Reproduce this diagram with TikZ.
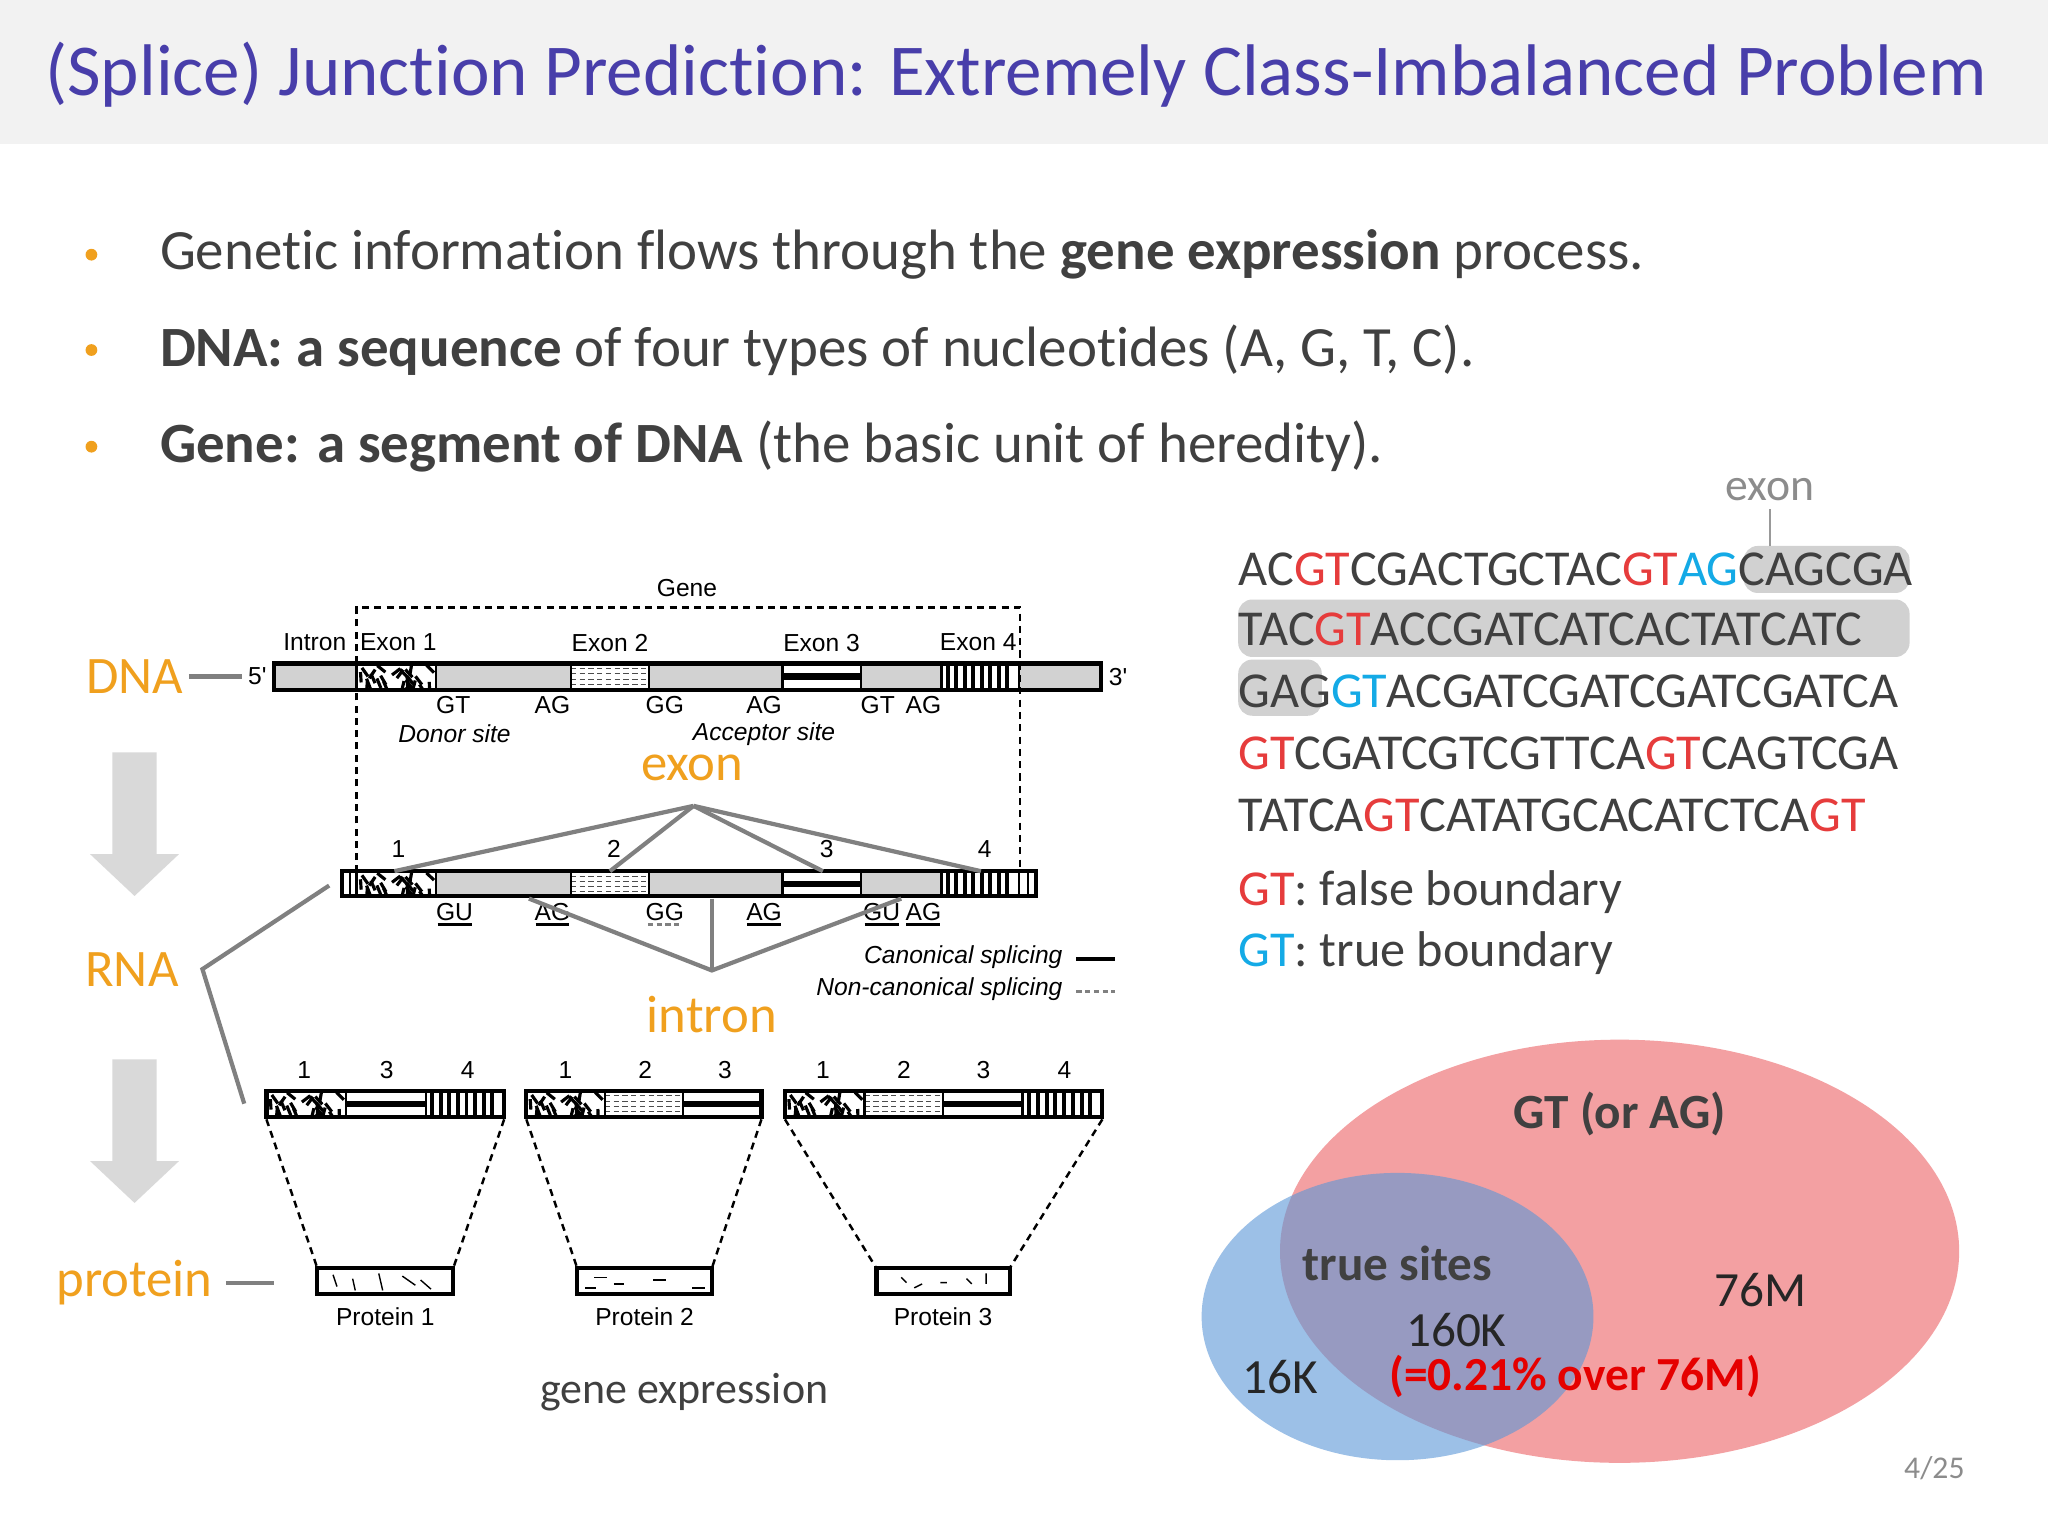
\documentclass[tikz,border=0pt]{standalone}
\usepackage{fontspec}
\setmainfont{Carlito}[Ligatures=NoCommon]
\newfontfamily\figfont{Liberation Sans}
\usetikzlibrary{arrows.meta}
\definecolor{titleblue}{RGB}{72,62,170}
\definecolor{orng}{RGB}{240,160,30}
\definecolor{txt}{RGB}{64,64,64}
\definecolor{segray}{RGB}{210,210,210}
\definecolor{hred}{RGB}{230,60,60}
\definecolor{hblue}{RGB}{20,170,230}
\definecolor{vred}{RGB}{243,160,162}
\definecolor{vblue}{RGB}{90,150,215}

% exon fillings
\newcommand{\segRand}[4]{%
  \fill[white] (#1,#3) rectangle (#2,#4);
  \begin{scope}
    \clip (#1,#3) rectangle (#2,#4);
    \pgfmathsetseed{11}
    \foreach \i in {1,...,26}{
      \pgfmathsetmacro\px{#1+rnd*(#2-#1)}
      \pgfmathsetmacro\py{#3+rnd*(#4-#3)}
      \pgfmathsetmacro\pa{30+rnd*120}
      \draw[line width=0.9pt] (\px,\py) -- ++(\pa:8);
    }
  \end{scope}}
\newcommand{\segDot}[4]{%
  \fill[white] (#1,#3) rectangle (#2,#4);
  \foreach \k in {0.2,0.4,0.6,0.8}{
    \draw[black!70,dash pattern=on 1.5pt off 1pt,line width=0.3pt] (#1,{#3+\k*(#4-#3)}) -- (#2,{#3+\k*(#4-#3)});}}
\newcommand{\segBand}[4]{%
  \fill[white] (#1,#3) rectangle (#2,#4);
  \fill[black] (#1,{#3+0.38*(#4-#3)}) rectangle (#2,{#3+0.62*(#4-#3)});}
\newcommand{\segBars}[4]{%
  \fill[white] (#1,#3) rectangle (#2,#4);
  \foreach \k in {0.08,0.19,...,0.95}{
    \draw[line width=1.1pt] ({#1+\k*(#2-#1)},#3) -- ({#1+\k*(#2-#1)},#4);}}

\begin{document}
\begin{tikzpicture}[x=0.01306cm,y=-0.01306cm,
  gtxt/.style={font=\figfont\fontsize{7}{8}\selectfont,inner sep=0pt},
  gitx/.style={font=\figfont\itshape\fontsize{7}{8}\selectfont,inner sep=0pt},
  otxt/.style={text=orng,font=\fontsize{15}{17}\selectfont,inner sep=0pt},
  btxt/.style={text=txt,font=\fontsize{16.2}{19}\selectfont,anchor=west,inner sep=0pt},
  seq/.style={text=txt,font=\fontsize{14.3}{16}\selectfont,anchor=west,inner sep=0pt},
  glink/.style={draw=black!50,line width=1.2pt},
  bar/.style={draw=black,line width=1.2pt},
  dashb/.style={dash pattern=on 2pt off 1.5pt,line width=0.7pt}]
\useasboundingbox (0,0) rectangle (1568,1176);
\fill[white] (0,0) rectangle (1568,1176);
% title bar
\fill[black!5] (0,0) rectangle (1568,110);
\node[text=titleblue,font=\fontsize{20.8}{24}\selectfont,inner sep=0pt] (title) at (778,57) {(Splice) Junction Prediction: Extremely Class-Imbalanced Problem};
% bullets
\foreach \yy in {195,268,342}{\fill[orng] (70,\yy) circle (4.5);}
\node[btxt] (b1) at (122,195) {Genetic information flows through the \textbf{gene expression} process.};
\node[btxt] (b2) at (122,268) {\textbf{DNA: a sequence} of four types of nucleotides (A, G, T, C).};
\node[btxt] (b3) at (122,342) {\textbf{Gene: a segment of DNA} (the basic unit of heredity).};

% ---------------- gene figure ----------------
% DNA bar
\fill[segray] (210,508) rectangle (843,528);
\segRand{273}{334}{508}{528}
\segDot{437}{497}{508}{528}
\segBand{599}{659}{508}{528}
\segBars{721}{780}{508}{528}
\foreach \xx in {273,334,437,497,599,659,721,780}{\draw[line width=0.7pt] (\xx,508) -- (\xx,528);}
\draw[bar] (210,508) rectangle (843,528);
% gene box
\draw[dashb] (273,668) -- (273,465) -- (781,465) -- (781,668);
\node[gtxt] (gene) at (526,450) {Gene};
\node[gtxt] (lint) at (241,492) {Intron};
\node[gtxt] (le1) at (305,492) {Exon 1};
\node[gtxt] (le2) at (467,492) {Exon 2};
\node[gtxt] (le3) at (629,492) {Exon 3};
\node[gtxt] (le4) at (749,492) {Exon 4};
\node[gtxt] (p5) at (197,518) {5'};
\node[gtxt] (p3) at (856,518) {3'};
\foreach \xx/\tt in {347/GT,423/AG,509/GG,585/AG,672/GT,707/AG}{\node[gtxt] at (\xx,540) {\tt};}
\node[gitx] (donor) at (348,562) {Donor site};
\node[gitx] (acc) at (585,562) {Acceptor site};
\node[otxt] (exon) at (530,588) {exon};

% RNA bar
\fill[segray] (262,667) rectangle (793,686);
\fill[white] (262,667) rectangle (273,686);
\fill[white] (780,667) rectangle (793,686);
\segRand{273}{334}{667}{686}
\segDot{437}{497}{667}{686}
\segBand{599}{659}{667}{686}
\segBars{721}{780}{667}{686}
\foreach \xx in {268,273,334,437,497,599,659,721,780,787}{\draw[line width=0.7pt] (\xx,667) -- (\xx,686);}
\draw[bar] (262,667) rectangle (793,686);
\coordinate (ex) at (531,617);
\foreach \xx/\nn in {302/1,467/2,630/3,751/4}{
  \coordinate (r\nn) at (\xx,667);
  \draw[glink] (ex) -- (r\nn);
  \node[gtxt] at (\xx+3,650) {\nn};}
\foreach \xx/\tt in {348/GU,423/AG,509/GG,585/AG,675/GU,707/AG}{\node[gtxt] at (\xx,698) {\tt};}
\foreach \xx in {348,423,585,675,707}{\draw[line width=1pt] (\xx-13,708) -- (\xx+13,708);}
\draw[black!50,line width=1pt,dash pattern=on 1.5pt off 1pt] (496,708) -- (522,708);
\coordinate (in) at (545,743);
\coordinate (i1) at (405,688);
\coordinate (i2) at (545,688);
\coordinate (i3) at (690,688);
\draw[glink] (i1) -- (in) -- (i3);
\draw[glink] (i2) -- (in);
\node[otxt] (intron) at (545,777) {intron};
\node[gitx,anchor=east] (canon) at (814,733) {Canonical splicing};
\node[gitx,anchor=east] (noncan) at (814,757) {Non-canonical splicing};
\draw[line width=1.2pt] (824,734) -- (854,734);
\draw[black!50,line width=1pt,dash pattern=on 1.5pt off 1pt] (824,759) -- (854,759);

% side labels and arrows
\node[otxt] (dna) at (103,518) {DNA};
\node[otxt] (rna) at (101,742) {RNA};
\node[otxt] (prot) at (103,982) {protein};
\draw[glink] (dna.east) ++(4,0) -- (185,518);
\coordinate (rj) at (155,742);
\coordinate (rt) at (252,678);
\coordinate (rb) at (187,845);
\draw[glink] (rt) -- (rj) -- (rb);
\draw[glink] (173,982) -- (210,982);
\foreach \ya in {576,811}{
  \fill[black!15] (86,\ya) -- (120,\ya) -- (120,\ya+78) -- (137,\ya+78) -- (103,\ya+110) -- (69,\ya+78) -- (86,\ya+78) -- cycle;}

% protein bars
\segRand{204}{265}{835}{855}\segBand{265}{326}{835}{855}\segBars{326}{386}{835}{855}
\segRand{403}{463}{835}{855}\segDot{463}{523}{835}{855}\segBand{523}{583}{835}{855}
\segRand{601}{662}{835}{855}\segDot{662}{722}{835}{855}\segBand{722}{783}{835}{855}\segBars{783}{844}{835}{855}
\foreach \xx in {265,326,463,523,662,722,783}{\draw[line width=0.7pt] (\xx,835) -- (\xx,855);}
\draw[bar] (204,835) rectangle (386,855);
\draw[bar] (403,835) rectangle (583,855);
\draw[bar] (601,835) rectangle (844,855);
\foreach \xx/\nn in {233/1,296/3,358/4,433/1,494/2,555/3,630/1,692/2,753/3,815/4}{\node[gtxt] at (\xx,819) {\nn};}
% protein boxes
\foreach \xa/\xb/\pa/\pb/\nm in {204/386/243/347/1,403/583/442/545/2,601/844/671/773/3}{
  \draw[line width=1.2pt,fill=white] (\pa,971) rectangle (\pb,991);
  \draw[dashb] (\xa,857) -- (\pa,971);
  \draw[dashb] (\xb,857) -- (\pb,971);
  \node[gtxt] at ({(\pa+\pb)/2},1008) {Protein \nm};}
\begin{scope}[line width=0.4pt]
  \draw (255,976) -- (258,985) (290,975) -- (293,988) (308,977) -- (318,984) (322,980) -- (330,987) (270,979) -- (272,988);
  \draw (455,978) -- (465,978) (470,983) -- (478,983) (500,980) -- (510,980) (530,986) -- (540,986) (448,986) -- (456,986);
  \draw (690,978) -- (694,982) (700,986) -- (706,983) (720,982) -- (725,982) (740,979) -- (744,983) (755,975) -- (755,983);
\end{scope}
\node[text=txt,font=\fontsize{12.5}{14}\selectfont,inner sep=0pt] (gexp) at (524,1066) {gene expression};

% ---------------- sequence ----------------
\fill[black!18,rounded corners=4pt] (1335,418) rectangle (1462,454);
\fill[black!18,rounded corners=4pt] (948,459) rectangle (1462,503);
\fill[black!18,rounded corners=4pt] (948,505) rectangle (1012,548);
\node[text=black!45,font=\fontsize{13}{15}\selectfont,inner sep=0pt] (exlab) at (1355,375) {exon};
\draw[black!40,line width=0.6pt] (1355,390) -- (1355,418);
\node[seq] (s1) at (948,436) {AC\textcolor{hred}{GT}CGACTGCTAC\textcolor{hred}{GT}\textcolor{hblue}{AG}CAGCGA};
\node[seq] (s2) at (948,482) {TAC\textcolor{hred}{GT}ACCGATCATCACTATCATC};
\node[seq] (s3) at (948,529) {GAG\textcolor{hblue}{GT}ACGATCGATCGATCGATCA};
\node[seq] (s4) at (948,577) {\textcolor{hred}{GT}CGATCGTCGTTCA\textcolor{hred}{GT}CAGTCGA};
\node[seq] (s5) at (948,624) {TATCA\textcolor{hred}{GT}CATATGCACATCTCA\textcolor{hred}{GT}};
\node[seq] (fb) at (948,683) {\textcolor{hred}{GT}: false boundary};
\node[seq] (tb) at (948,730) {\textcolor{hblue}{GT}: true boundary};

% ---------------- venn ----------------
\fill[vred] (1240,958) ellipse [x radius=260,y radius=162];
\fill[vblue,opacity=0.6] (1070,1008) ellipse [x radius=150,y radius=110];
\node[text=txt,font=\bfseries\fontsize{14}{16}\selectfont,inner sep=0pt] (gtag) at (1240,853) {GT (or AG)};
\node[text=txt,font=\bfseries\fontsize{14}{16}\selectfont,inner sep=0pt] (ts) at (1070,967) {true sites};
\node[text=black!85,font=\fontsize{14}{16}\selectfont,inner sep=0pt] (n160) at (1115,1018) {160K};
\node[text=black!85,font=\fontsize{14}{16}\selectfont,inner sep=0pt] (n76) at (1348,988) {76M};
\node[text=black!85,font=\fontsize{14}{16}\selectfont,inner sep=0pt] (n16) at (980,1054) {16K};
\node[text=red!90!black,font=\bfseries\fontsize{13.5}{16}\selectfont,inner sep=0pt] (pct) at (1206,1054) {(=0.21\% over 76M)};
\node[text=black!45,font=\fontsize{9}{11}\selectfont,inner sep=0pt] (pg) at (1481,1124) {4/25};
\end{tikzpicture}
\end{document}
